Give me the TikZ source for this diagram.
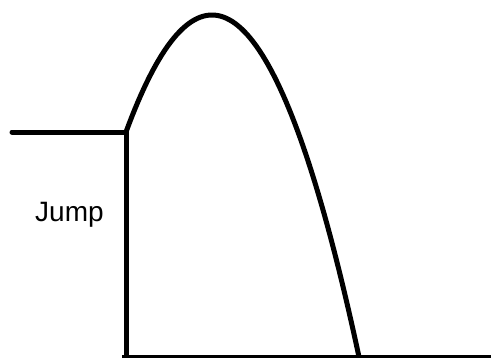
\documentclass[tikz,border=0pt]{standalone}
\usepackage{fontspec}
\setmainfont{Liberation Sans}
\usepackage{tikz}
\usetikzlibrary{positioning,calc}

\begin{document}
\begin{tikzpicture}[
    x=1pt, y=-1pt,
    edge/.style={line width=5pt, line cap=round, line join=miter},
    label/.style={font=\fontsize{28}{34}\selectfont, anchor=base west, inner sep=0pt},
]
\useasboundingbox (0,0) rectangle (491,357);
% ---------------- ground and ramp ----------------
\coordinate (start) at (12,132);
\coordinate (lip) at (126,132);
\coordinate (foot) at (126,357);
\coordinate (right) at (495,357);
\draw[edge] (start) -- (lip);
\draw[edge, line cap=butt] (lip) -- (foot);
\draw[edge, line cap=butt] ($(foot)+(-4,0)$) -- (right);
\node[label] (jump) at (35,221) {Jump};

% ---------------- flight path: parabola, top at (212,15) ----------------
\draw[edge, line cap=butt, domain=-8.6:14.8, samples=80]
    plot ({212+10*\x}, {15+1.582*\x*\x});
\end{tikzpicture}
\end{document}
